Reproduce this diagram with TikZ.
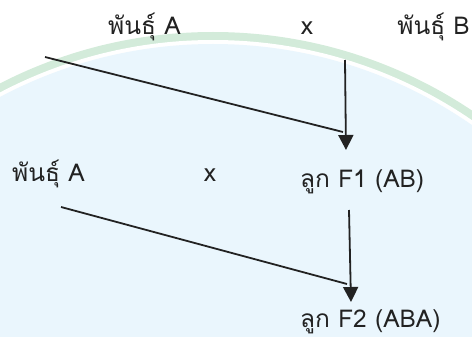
\documentclass[tikz,border=0pt]{standalone}
\usepackage{fontspec}
\newfontfamily\thaifont[Script=Thai]{Loma}
\usetikzlibrary{arrows.meta}
\definecolor{disk}{HTML}{EAF6FD}
\definecolor{ring}{HTML}{D3EBDA}
\definecolor{ink}{HTML}{222222}
\tikzset{
  breed/.style={font=\thaifont\fontsize{24.5}{28}\selectfont,text=ink,inner sep=0pt,anchor=base west},
  link/.style={line width=1.8pt,draw=ink},
  arrow/.style={link,-{Triangle[length=15pt,width=15pt]}}
}
\begin{document}
\begin{tikzpicture}[x=1pt,y=-1pt]
\useasboundingbox (0,0) rectangle (472,337);
% background disk
\begin{scope}
\clip (0,0) rectangle (472,337);
\fill[ring] (213,498) circle (466pt);
\fill[white] (213,498) circle (458pt);
\fill[disk] (213,498) circle (454pt);
\end{scope}
% first cross
\node[breed] (pa1) at (108,35) {พันธุ์ A};
\node[breed,anchor=base] (x1) at (307,35) {x};
\node[breed,anchor=base east] (pb) at (470,35) {พันธุ์ B};
% second cross
\node[breed] (pa2) at (12,182) {พันธุ์ A};
\node[breed,anchor=base] (x2) at (210,182) {x};
\node[breed] (f1) at (300,187) {ลูก F1 (AB)};
\node[breed] (f2) at (300,327) {ลูก F2 (ABA)};
\coordinate (d1s) at (45,57);
\coordinate (d1e) at (343,132);
\coordinate (v1s) at (345,60);
\coordinate (v1e) at (346,150);
\coordinate (d2s) at (61,207);
\coordinate (d2e) at (347,284);
\coordinate (v2s) at (349,210);
\coordinate (v2e) at (351,302);
\draw[link] (d1s) -- (d1e);
\draw[arrow] (v1s) -- (v1e);
\draw[link] (d2s) -- (d2e);
\draw[arrow] (v2s) -- (v2e);
\end{tikzpicture}
\end{document}
